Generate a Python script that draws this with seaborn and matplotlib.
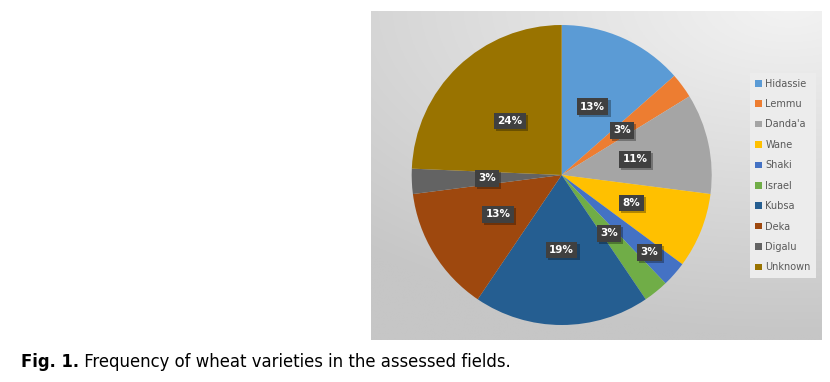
import numpy as np
import matplotlib
matplotlib.use("Agg")
import matplotlib.pyplot as plt
import matplotlib.patheffects as pe
from matplotlib.patches import Patch
import seaborn as sns

# ---- data ----
varieties = ["Hidassie", "Lemmu", "Danda'a", "Wane", "Shaki", "Israel",
             "Kubsa", "Deka", "Digalu", "Unknown"]
counts = [5, 1, 4, 3, 1, 1, 7, 5, 1, 9]
pct_labels = ["13%", "3%", "11%", "8%", "3%", "3%", "19%", "13%", "3%", "24%"]
colors = ["#5B9BD5", "#ED7D31", "#A5A5A5", "#FFC000", "#4472C4",
          "#70AD47", "#255E91", "#9E480E", "#636363", "#997300"]
caption_bold = "Fig. 1."
caption_text = " Frequency of wheat varieties in the assessed fields."

sns.set_theme(style="white")
plt.rcParams['font.family'] = ['DejaVu Sans']
palette = sns.color_palette(colors)

W, H = 830, 382
fig = plt.figure(figsize=(W / 100, H / 100), dpi=100)
fig.patch.set_facecolor("white")

def fx(px):
    return px / W

def fy(py):
    return 1 - py / H

# ---- gradient background panel ----
x0, x1, y0, y1 = 371, 822, 11, 340
bg = fig.add_axes([fx(x0), fy(y1), fx(x1 - x0), (y1 - y0) / H])
gx = np.linspace(x0, x1, 300)
gy = np.linspace(y0, y1, 220)
XX, YY = np.meshgrid(gx, gy)
d = np.sqrt(((XX - 790) / 640) ** 2 + ((YY - 5) / 330) ** 2)
val = 243 - 45 * np.clip(d, 0, 1)
img = np.dstack([val, val, val]) / 255.0
bg.imshow(img, aspect="auto", extent=[0, 1, 0, 1], origin="upper")
bg.set_axis_off()

# ---- pie ----
cx, cy, r = 561.7, 175, 150
ax = fig.add_axes([fx(cx - r), fy(cy + r), 2 * r / W, 2 * r / H])
wedges, _ = ax.pie(counts, colors=palette, startangle=90, counterclock=False,
                   radius=1.0, wedgeprops=dict(linewidth=0))
ax.set_xlim(-1, 1)
ax.set_ylim(-1, 1)
ax.set_aspect("equal")
ax.set_axis_off()

total = sum(counts)
cum = 0
for name, c, lab in zip(varieties, counts, pct_labels):
    mid = 90 - 360 * (cum + c / 2) / total
    cum += c
    # Excel's best-fit pushed the Shaki label outward to avoid overlap
    rr = 0.78 if name == "Shaki" else 0.5
    tx = rr * np.cos(np.deg2rad(mid))
    ty = rr * np.sin(np.deg2rad(mid))
    t = ax.text(tx, ty, lab, ha="center", va="center", color="white",
                fontsize=7.5, fontweight="bold",
                bbox=dict(boxstyle="square,pad=0.32", fc="#404040", ec="none"))
    t.get_bbox_patch().set_path_effects([
        pe.withSimplePatchShadow(offset=(1.5, -1.5), shadow_rgbFace="black", alpha=0.3),
        pe.Normal()])

# ---- legend ----
handles = [Patch(facecolor=col, edgecolor="none") for col in palette]
leg = fig.legend(handles, varieties, loc="center",
                 bbox_to_anchor=(fx(783), fy(175.5)),
                 fontsize=7, frameon=True, fancybox=False,
                 handlelength=0.65, handleheight=0.65, handletextpad=0.35,
                 labelspacing=1.07, borderpad=0.6, labelcolor="#595959")
leg.get_frame().set_facecolor("#ececec")
leg.get_frame().set_edgecolor("none")
leg.get_frame().set_alpha(1)

# ---- caption ----
cap = fig.text(fx(21), fy(362), caption_bold, fontsize=11.9, fontweight="bold",
               ha="left", va="center", color="black")
fig.canvas.draw()
bb = cap.get_window_extent()
fig.text(bb.x1 / W, fy(362), caption_text, fontsize=11.9,
         ha="left", va="center", color="black")

fig.savefig("out.png", dpi=100)
